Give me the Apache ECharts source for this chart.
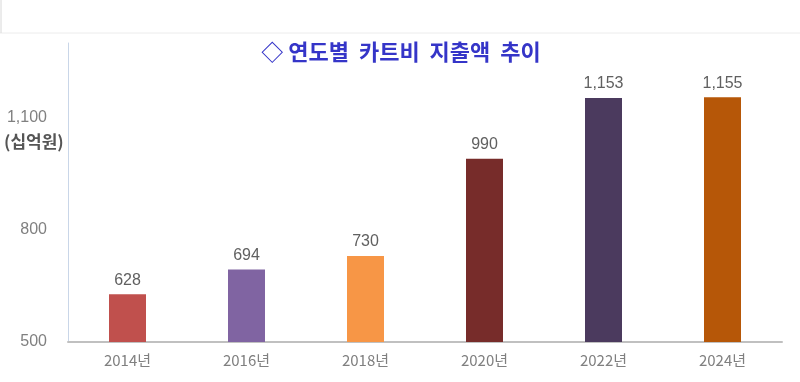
<!DOCTYPE html>
<html><head><meta charset="utf-8">
<script src="https://cdn.jsdelivr.net/npm/echarts@6/dist/echarts.min.js"></script>
<style>html,body{margin:0;padding:0;background:#fff}#c{width:800px;height:382px}</style>
</head><body><div id="c"></div>
<script>
const categories = ['2014년','2016년','2018년','2020년','2022년','2024년'];
const values = [628, 694, 730, 990, 1153, 1155];
const barColors = ['#c0504d','#8064a2','#f79646','#772c2a','#4b3a5e','#b65708'];
const yTicks = [500, 800, 1100];
const titleText = '◇ 연도별  카트비  지출액  추이';
const unitText = '(십억원)';

const chart = echarts.init(document.getElementById('c'));
chart.setOption({
  animation: false,
  title: {
    text: titleText, left: 396, textAlign: 'center', top: 36,
    textStyle: {color: '#3535c8', fontSize: 22, fontWeight: 'bold', fontFamily: 'Noto Sans CJK KR'}
  },
  grid: {left: 68, right: 18, top: 43, bottom: 40},
  xAxis: {
    type: 'category', data: categories,
    axisLine: {lineStyle: {color: '#c0c0c0', width: 2}},
    axisTick: {show: false},
    axisLabel: {color: '#808080', fontSize: 15, margin: 11, fontFamily: 'Noto Sans CJK KR'}
  },
  yAxis: {
    type: 'value', min: 500, max: 1300, interval: 300,
    axisLine: {show: true, lineStyle: {color: '#c9d6e8', width: 1}},
    axisTick: {show: false},
    splitLine: {show: false},
    axisLabel: {
      color: '#808080', fontSize: 16, margin: 21, fontFamily: 'Liberation Sans',
      showMaxLabel: false,
      formatter: v => yTicks.includes(v) ? v.toLocaleString('en-US') : ''
    }
  },
  graphic: [
    {type: 'text', left: 4, top: 133, style: {text: unitText, fill: '#555', fontSize: 17, fontWeight: 'bold', fontFamily: 'Noto Sans CJK KR'}},
    {type: 'line', shape: {x1: 0, y1: 33, x2: 800, y2: 33}, style: {stroke: '#ececec', lineWidth: 1}},
    {type: 'line', shape: {x1: 1, y1: 0, x2: 1, y2: 33}, style: {stroke: '#d8d8d8', lineWidth: 1}}
  ],
  series: [{
    type: 'bar', barWidth: 37,
    data: values.map((v, i) => ({value: v, itemStyle: {color: barColors[i]}})),
    label: {
      show: true, position: 'top', distance: 6, color: '#606060', fontSize: 16,
      fontFamily: 'Liberation Sans',
      formatter: p => p.value.toLocaleString('en-US')
    }
  }]
});
</script></body></html>
